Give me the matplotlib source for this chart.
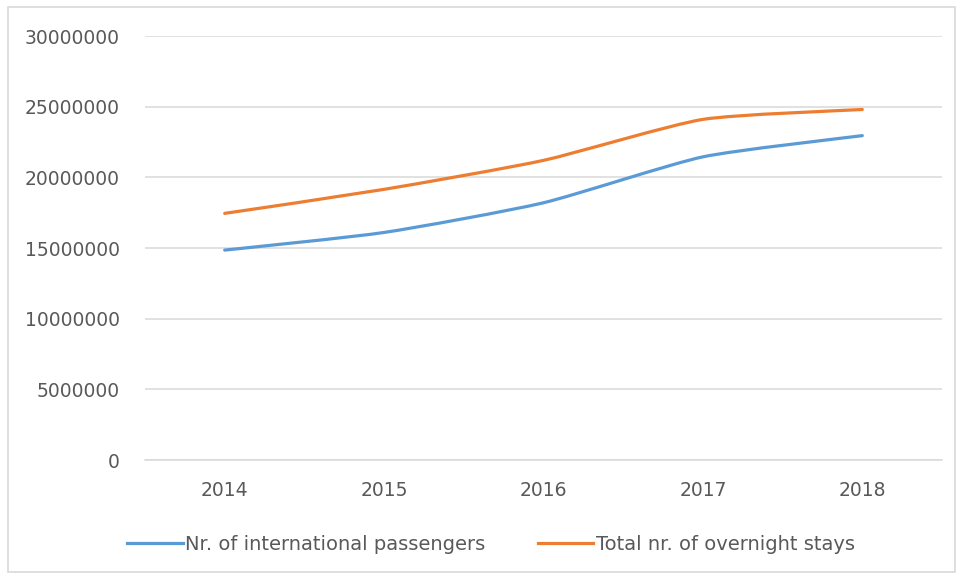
import matplotlib
matplotlib.use("Agg")
import matplotlib.pyplot as plt
from matplotlib.path import Path
from matplotlib.patches import PathPatch, Rectangle
from matplotlib.lines import Line2D
import numpy as np

years = ["2014", "2015", "2016", "2017", "2018"]
passengers = [14850000, 16100000, 18200000, 21450000, 22950000]
overnight_stays = [17450000, 19150000, 21200000, 24100000, 24800000]
series_names = ["Nr. of international passengers", "Total nr. of overnight stays"]
yticks = [0, 5000000, 10000000, 15000000, 20000000, 25000000, 30000000]

BLUE = "#5b9bd5"
ORANGE = "#ed7d31"
GRID = "#d9d9d9"
TEXT = "#595959"


def smooth_path(x, y, k=10.0):
    """Bezier path through the points, lightly smoothed line."""
    pts = np.column_stack([x, y]).astype(float)
    ext = np.vstack([pts[0], pts, pts[-1]])
    verts = [pts[0]]
    codes = [Path.MOVETO]
    for i in range(len(pts) - 1):
        p0, p1, p2, p3 = ext[i], ext[i + 1], ext[i + 2], ext[i + 3]
        c1 = p1 + (p2 - p0) / k
        c2 = p2 - (p3 - p1) / k
        verts += [c1, c2, p2]
        codes += [Path.CURVE4] * 3
    return Path(verts, codes)


fig = plt.figure(figsize=(9.59, 5.81), dpi=100)
ax = fig.add_axes([145 / 959, 1 - 460 / 581, 797 / 959, 424 / 581])

x = np.arange(len(years))
for vals, color in [(passengers, BLUE), (overnight_stays, ORANGE)]:
    ax.add_patch(PathPatch(smooth_path(x, vals), fill=False, edgecolor=color,
                           linewidth=2.3, capstyle="round", joinstyle="round",
                           zorder=3))

ax.set_xlim(-0.5, len(years) - 0.5)
ax.set_ylim(0, 30000000)
ax.set_xticks(x)
ax.set_xticklabels(years)
ax.set_yticks(yticks)
ax.set_yticklabels([str(v) for v in yticks])

ax.grid(axis="y", color=GRID, linewidth=1.1)
ax.set_axisbelow(True)
for side in ["top", "right", "left"]:
    ax.spines[side].set_visible(False)
ax.spines["bottom"].set_color(GRID)
ax.spines["bottom"].set_linewidth(1.1)
ax.tick_params(axis="both", length=0, colors=TEXT, labelsize=13.5)
ax.tick_params(axis="y", pad=18)
ax.tick_params(axis="x", pad=15)

handles = [Line2D([], [], color=BLUE, linewidth=2.3),
           Line2D([], [], color=ORANGE, linewidth=2.3)]
leg = fig.legend(handles, series_names, loc="center", ncol=2,
                 bbox_to_anchor=(491 / 959, 1 - 544 / 581), frameon=False,
                 fontsize=14, handlelength=2.85, handletextpad=0.12,
                 columnspacing=2.7, labelcolor=TEXT)

# light frame round the chart area
fig.patches.append(Rectangle((8 / 959, 1 - 572 / 581), 947 / 959, 565 / 581,
                             transform=fig.transFigure, fill=False,
                             edgecolor=GRID, linewidth=1.2))

fig.savefig("out.png", dpi=100, facecolor="white")
